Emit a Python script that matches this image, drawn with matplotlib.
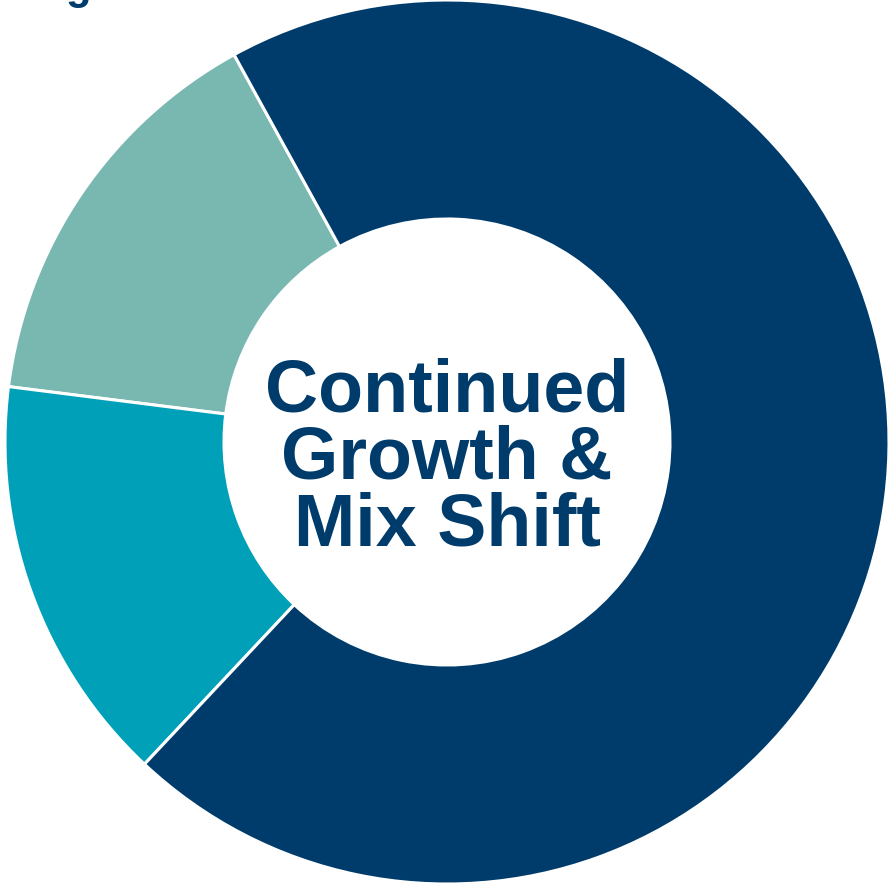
import matplotlib.pyplot as plt

# Share of the mix (percent), drawn counter-clockwise from the start angle
segments = ['Segment A', 'Segment B', 'Segment C']
shares = [15, 15, 70]
colors = ['#78B8B1', '#00A0B8', '#003C6B']

center_text = 'Continued\nGrowth &\nMix Shift'
navy = '#003C6B'

W, H = 891, 884
fig = plt.figure(figsize=(W / 100, H / 100), dpi=100)
ax = fig.add_axes([0, 0, 1, 1])

ax.pie(shares, colors=colors, startangle=118.8, counterclock=True,
       center=(447, 442), radius=442, frame=True,
       wedgeprops=dict(width=219, edgecolor='white', linewidth=2.2))
ax.set_xlim(0, W)
ax.set_ylim(0, H)
ax.set_aspect('equal')
ax.axis('off')

ax.text(447, 425, center_text, ha='center', va='center', color=navy,
        fontsize=53, fontweight='bold', family='Liberation Sans',
        linespacing=0.97)

# title above the chart, only its descender falls inside the canvas
ax.text(65, 885, 'g', ha='left', va='baseline', color=navy,
        fontsize=30, fontweight='bold', family='Liberation Sans')

fig.savefig('out.png', dpi=100)
